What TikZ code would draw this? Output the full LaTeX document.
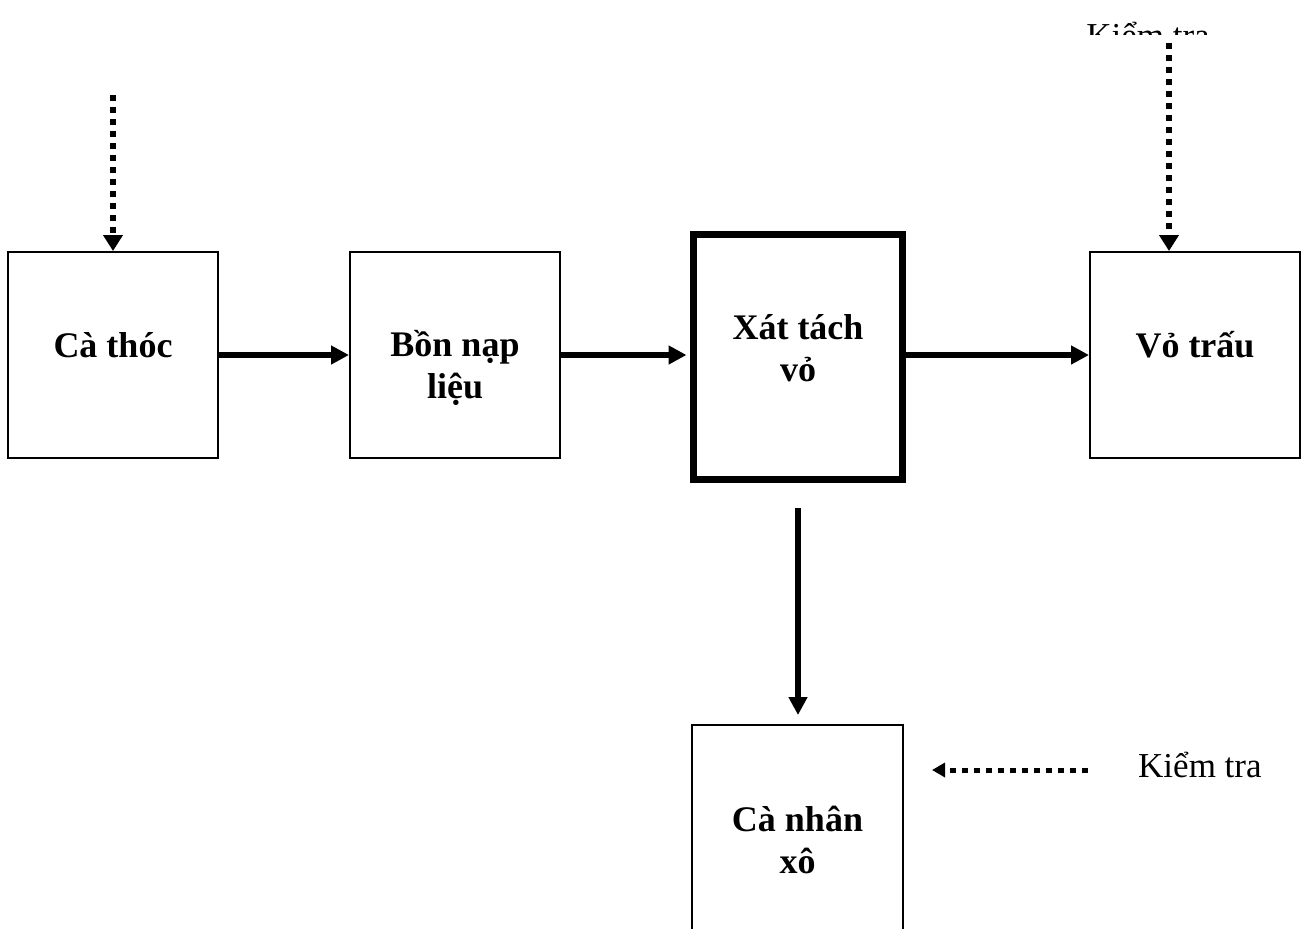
\documentclass[tikz,border=0pt]{standalone}
\usepackage{fontspec}
\setmainfont{Liberation Serif}
\usetikzlibrary{arrows.meta,calc}
\tikzset{
  box/.style={draw, line width=2pt, minimum width=210pt, minimum height=206pt, inner sep=0pt},
  thickbox/.style={draw, line width=7pt, minimum width=209pt, minimum height=245pt, inner sep=0pt},
  lab/.style={align=center, font=\fontsize{36}{42}\selectfont\bfseries, inner sep=0pt},
  kt/.style={font=\fontsize{35}{42}\selectfont, inner sep=0pt},
  flow/.style={line width=6pt, -{Triangle[length=18pt,width=18pt]}},
  check/.style={line width=6pt, dash pattern=on 6pt off 6pt, -{Triangle[length=16pt,width=19pt]}},
  checksmall/.style={line width=5pt, dash pattern=on 6pt off 6pt, -{Triangle[length=13pt,width=14pt]}}
}
\begin{document}
\begin{tikzpicture}[x=1pt,y=-1pt]
\useasboundingbox (0,0) rectangle (1304,929);
\clip (0,0) rectangle (1304,929);
% boxes
\node[box, label={[lab, name=tca, yshift=10pt]center:Cà thóc}] (ca) at (113,355) {};
\node[box, label={[lab, name=tbon, yshift=-13pt]center:Bồn nạp\\liệu}] (bon) at (455,355) {};
\node[thickbox, label={[lab, name=txat, yshift=9pt]center:Xát tách\\vỏ}] (xat) at (798,357) {};
\node[box, label={[lab, name=tvo, yshift=10pt]center:Vỏ trấu}] (vo) at (1195,355) {};
\node[box, minimum width=211pt, minimum height=229pt, label={[lab, name=tnhan, yshift=0pt]center:Cà nhân\\xô}] (nhan) at (797.5,839.5) {};
% main flow
\draw[flow] (ca.east) -- (bon.west);
\draw[flow, shorten >=3.5pt] (bon.east) -- (bon.east -| xat.west);
\draw[flow] (xat.east |- vo.west) -- (vo.west);
\coordinate (dstart) at (798,508);
\draw[flow, shorten >=9pt] (dstart) -- (dstart |- nhan.north);
% checks
\node[kt, anchor=base] (kt1) at (1148,47) {Kiểm tra};
\fill[white] (1070,35) rectangle (1230,52);
\coordinate (c1) at (113,95);
\draw[check] (c1) -- (c1 |- ca.north);
\coordinate (c2) at (1169,43);
\draw[check] (c2) -- (c2 |- vo.north);
\node[kt, anchor=base west] (kt2) at (1138,777) {Kiểm tra};
\coordinate (c3) at (1088,770);
\coordinate (c4) at (932,770);
\draw[checksmall] (c3) -- (c4);
\end{tikzpicture}
\end{document}
